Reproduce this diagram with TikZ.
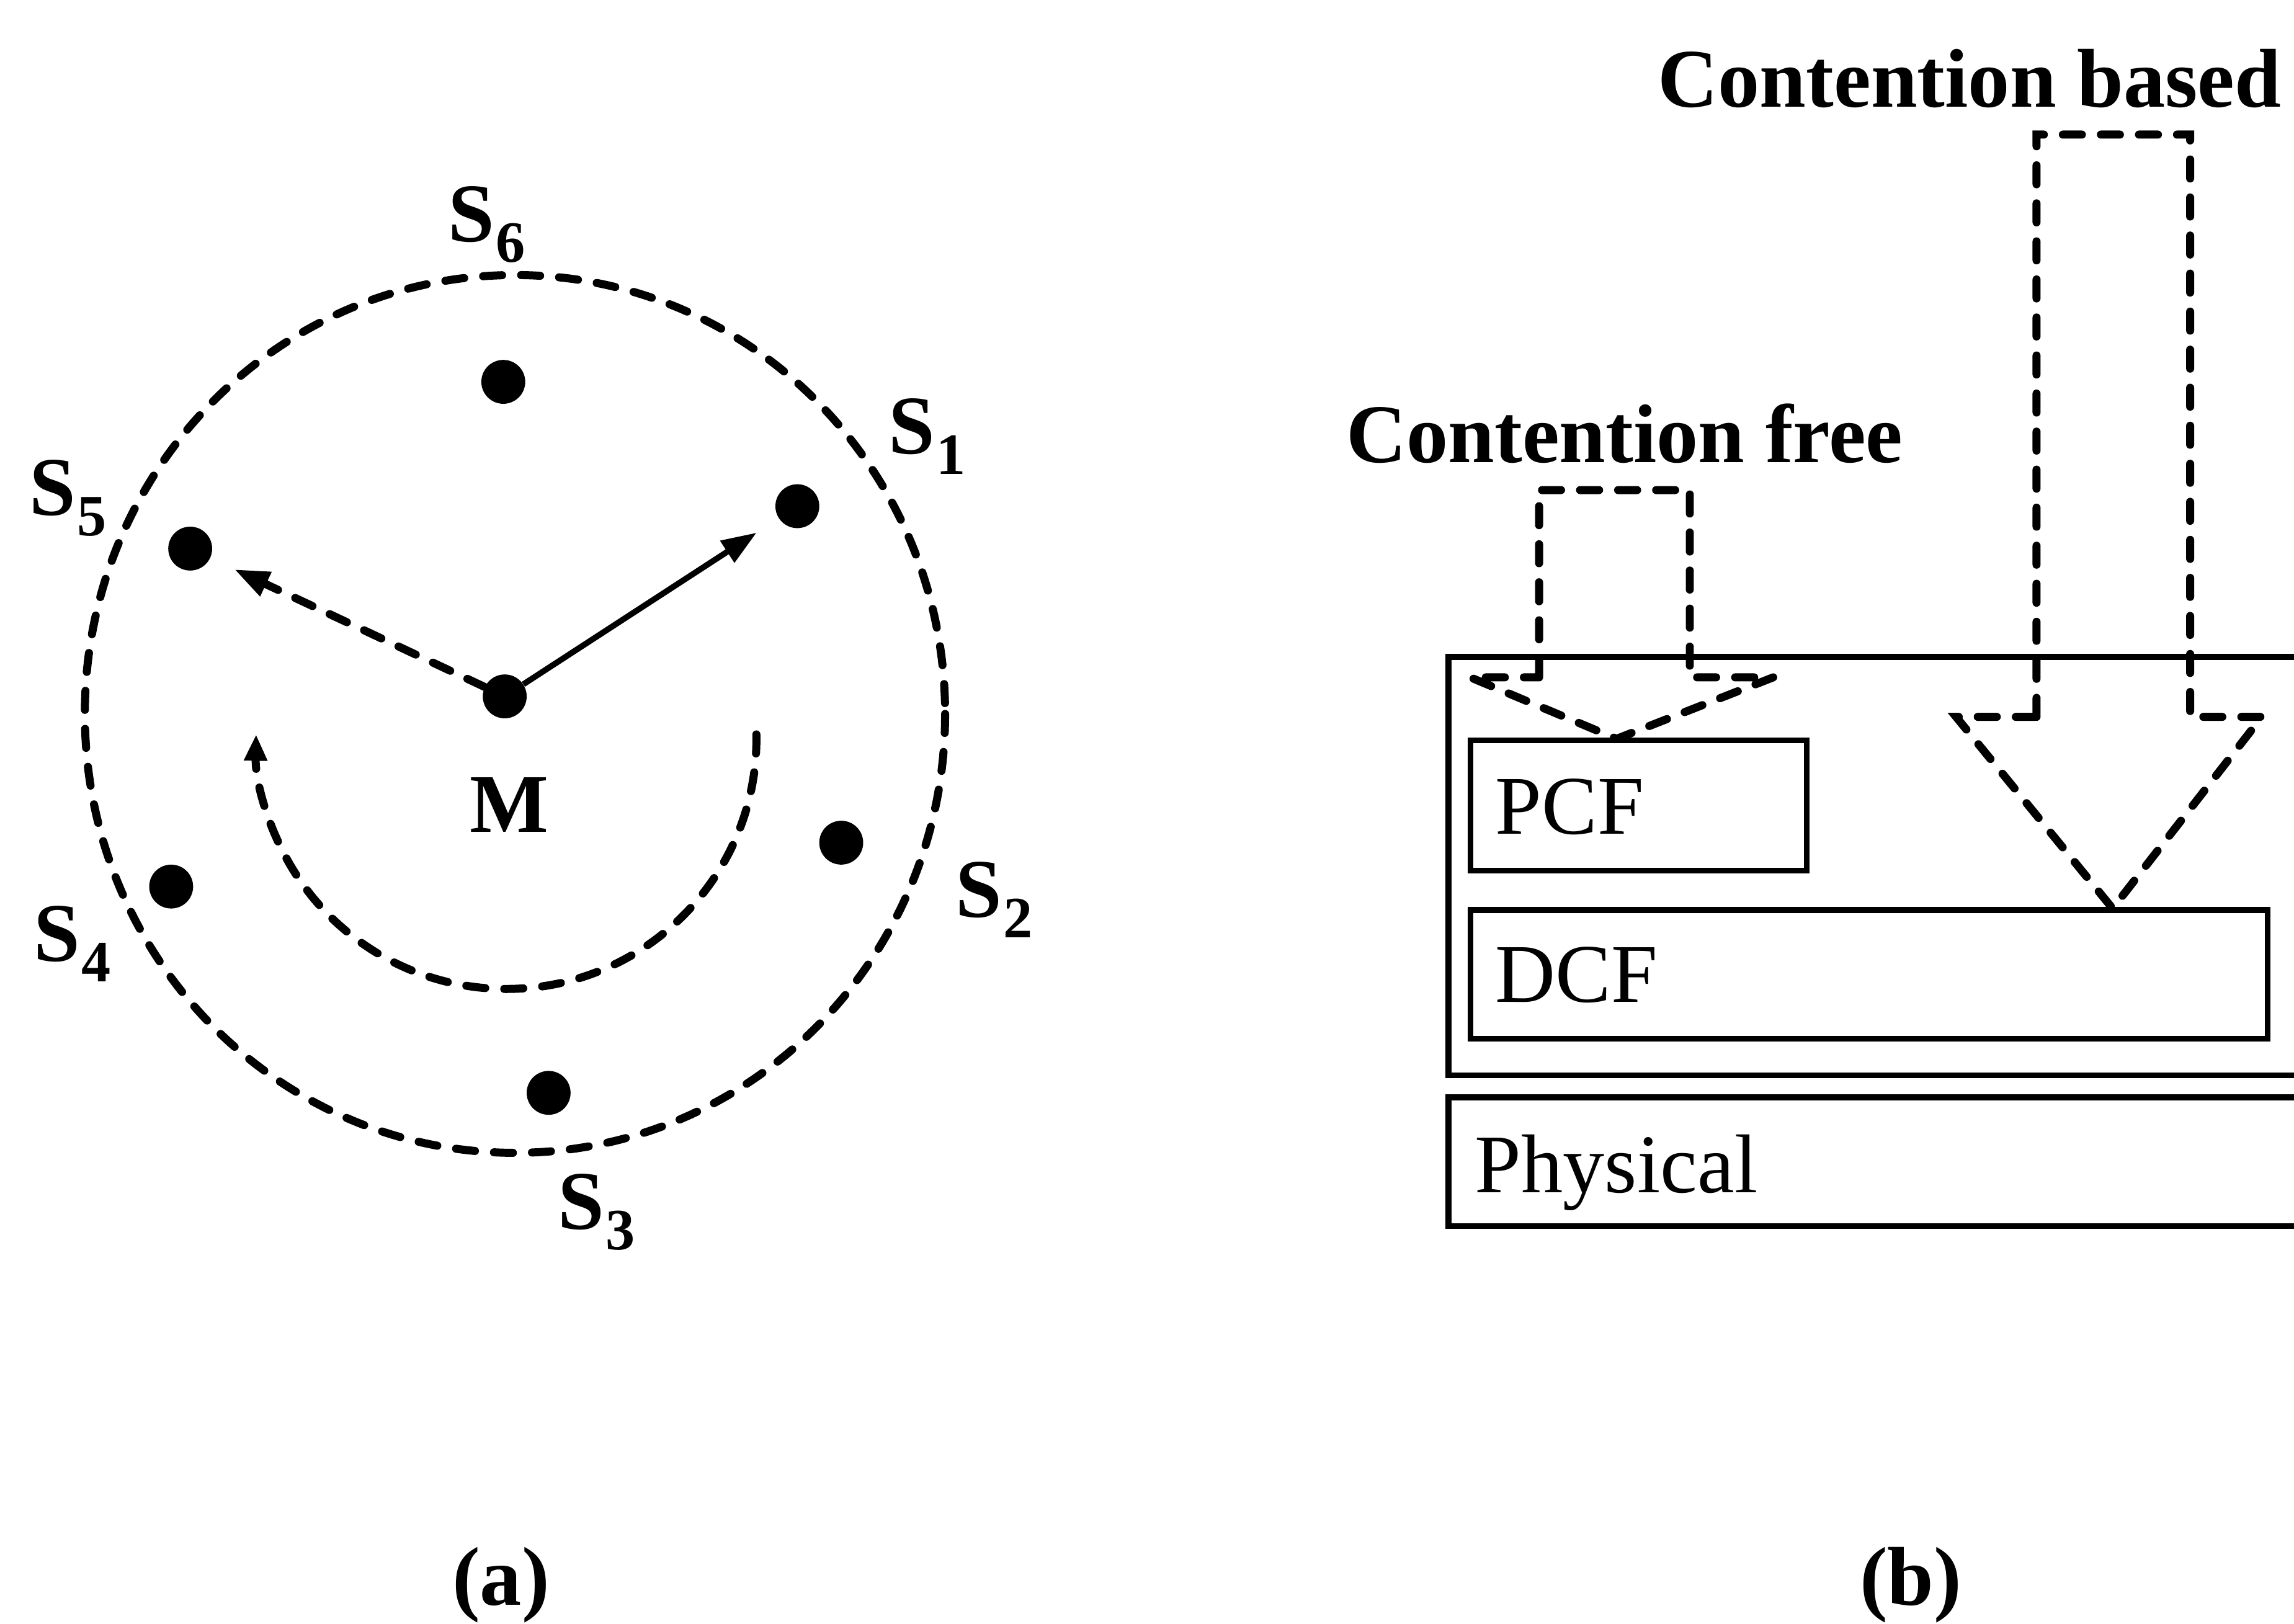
\documentclass[tikz,border=0pt]{standalone}
\usepackage{fontspec}
\setmainfont{Liberation Serif}
\usetikzlibrary{arrows.meta}
\newcommand{\Sn}[1]{S\kern1pt\raisebox{-14pt}{\fontsize{40}{40}\selectfont #1}}
\begin{document}
\begin{tikzpicture}[x=1pt,y=-1pt,
  dot/.style={circle,fill=black,inner sep=0pt,minimum size=30pt},
  lab/.style={anchor=base west,inner sep=0pt,font=\fontsize{57}{68}\selectfont\bfseries},
  txt/.style={anchor=base west,inner sep=0pt,font=\fontsize{57}{68}\selectfont},
  dsh/.style={line width=5.5pt,line cap=round,dash pattern=on 13pt off 13pt},
  boxline/.style={line width=4pt},
  tip/.style={-{Triangle[length=24pt,width=17pt]}},
]
\clip (0,0) rectangle (1568,1110);
% ---------- panel (a) ----------
\draw[dsh] (352,488) ellipse [x radius=294, y radius=300];
\node[dot] (S6) at (344,261) {};
\node[dot] (S1) at (545,346) {};
\node[dot] (S5) at (130,375) {};
\node[dot] (M)  at (345,476) {};
\node[dot] (S2) at (575,576) {};
\node[dot] (S4) at (117,606) {};
\node[dot] (S3) at (375,747) {};
\node[lab] (L6) at (306,165) {\Sn{6}};
\node[lab] (L1) at (607,310) {\Sn{1}};
\node[lab] (L5) at (20,352) {\Sn{5}};
\node[lab] (L2) at (653,627) {\Sn{2}};
\node[lab] (L4) at (23,657) {\Sn{4}};
\node[lab] (L3) at (381,840) {\Sn{3}};
\node[lab] (LM) at (321,569) {M};
\draw[line width=4pt,tip,shorten >=18pt] (M) -- (S1);
\draw[dsh,tip,shorten >=18pt] (M) -- (S5);
\coordinate (arcS) at (517,502);
\draw[dsh,-{Triangle[length=18pt,width=15pt]}] (arcS) arc[start angle=-1,end angle=181,radius=171];
\node[lab] (capa) at (309,1097) {(a)};
% ---------- panel (b) ----------
\coordinate (macNW) at (990,449);
\coordinate (macSE) at (1600,735);
\draw[boxline] (macNW) rectangle (macSE);
\coordinate (pcfNW) at (1005,506);
\coordinate (pcfSE) at (1235,595);
\draw[boxline] (pcfNW) rectangle (pcfSE);
\coordinate (dcfNW) at (1005,622);
\coordinate (dcfSE) at (1550,710);
\draw[boxline] (dcfNW) rectangle (dcfSE);
\coordinate (phyNW) at (990,750);
\coordinate (phySE) at (1600,838);
\draw[boxline] (phyNW) rectangle (phySE);
\node[txt] (pcf) at (1022,570) {PCF};
\node[txt] (dcf) at (1022,685) {DCF};
\node[txt] (phy) at (1008,815) {Physical};
\node[lab] (cf) at (920,316) {Contention free};
\node[lab] (cb) at (1133,73) {Contention based};
% contention based arrow
\coordinate (cbTip) at (1444,621);
\draw[dsh] (1392,490) -- (1392,92) -- (1497,92) -- (1497,490) -- (1546,490) -- (cbTip) -- (1337,490) -- cycle;
% contention free arrow
\coordinate (cfTip) at (1105,505);
\draw[dsh] (1052,463) -- (1052,335) -- (1155,335) -- (1155,463) -- (1212,463) -- (cfTip) -- (1005,463) -- cycle;
\node[lab] (capb) at (1271,1097) {(b)};
\end{tikzpicture}
\end{document}
